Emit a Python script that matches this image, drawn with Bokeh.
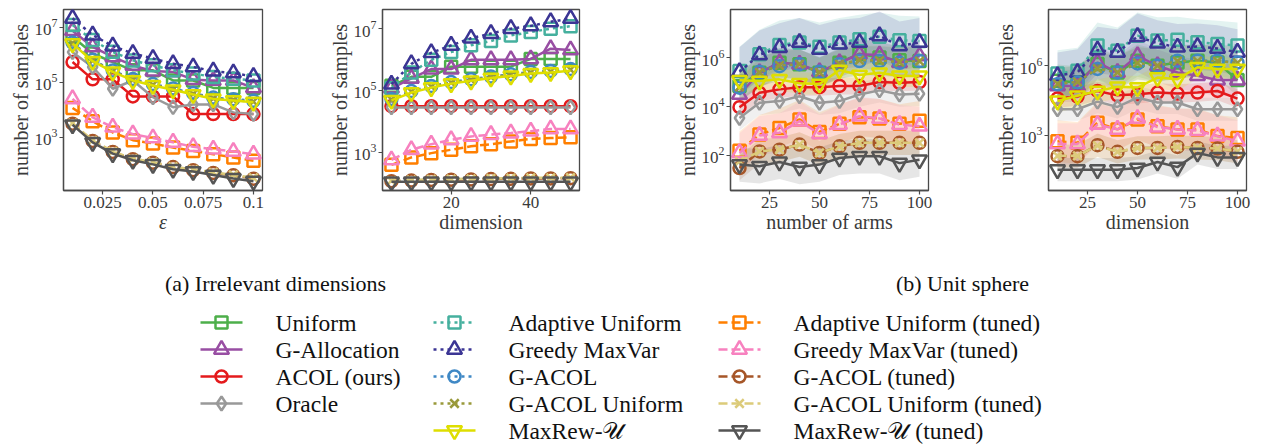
from bokeh.plotting import figure
from bokeh.layouts import row, column
from bokeh.models import Range1d, FixedTicker
from bokeh.embed import file_html
from bokeh.resources import INLINE
from bokeh.core.properties import value

# ---------------- series definitions ----------------
names = ["Uniform", "G-Allocation", "ACOL (ours)", "Oracle",
         "Adaptive Uniform", "Greedy MaxVar", "G-ACOL", "G-ACOL Uniform", "MaxRew-\U0001D4B0",
         "Adaptive Uniform (tuned)", "Greedy MaxVar (tuned)", "G-ACOL (tuned)",
         "G-ACOL Uniform (tuned)", "MaxRew-\U0001D4B0 (tuned)"]
colors = ["#4daf4a", "#984ea3", "#e41a1c", "#999999",
          "#45b09e", "#3b3594", "#3f88c5", "#99993a", "#dede00",
          "#ff7f00", "#f781bf", "#a65628", "#dccb7a", "#555555"]
markers = ["square", "triangle", "circle", "diamond",
           "square", "triangle", "circle", "x", "inverted_triangle",
           "square", "triangle", "circle", "x", "inverted_triangle"]
dashes = ["solid", "solid", "solid", "solid",
          "3 4", "3 4", "3 4", "3 4", "solid",
          "9 4", "9 4", "9 4", "9 4", "solid"]

# ---------------- (a) left: epsilon ----------------
eps = [0.01, 0.02, 0.03, 0.04, 0.05, 0.06, 0.07, 0.08, 0.09, 0.1]
eps_uniform = [6.66, 6.05, 5.74, 5.44, 5.44, 5.07, 5.07, 4.80, 4.80, 4.80]
eps_gallocation = [6.88, 6.29, 5.93, 5.62, 5.41, 5.38, 5.10, 5.07, 5.07, 4.80]
eps_acol = [5.74, 5.11, 5.11, 4.49, 4.49, 4.49, 3.85, 3.85, 3.85, 3.85]
eps_oracle = [6.10, 5.56, 4.77, 5.07, 4.46, 4.10, 4.20, 4.20, 3.91, 3.85]
eps_adaptive = [7.09, 6.54, 6.11, 5.80, 5.62, 5.44, 5.32, 5.20, 5.13, 5.07]
eps_greedy = [7.33, 6.72, 6.32, 6.05, 5.87, 5.68, 5.56, 5.41, 5.34, 5.21]
eps_gacol = [6.45, 5.82, 5.43, 5.12, 4.94, 4.78, 4.61, 4.45, 4.39, 4.33]
eps_gacol_unif = [6.43, 5.80, 5.40, 5.10, 4.91, 4.75, 4.58, 4.42, 4.36, 4.30]
eps_maxrew = [6.41, 5.77, 5.38, 5.07, 4.89, 4.73, 4.56, 4.40, 4.34, 4.28]
eps_adaptive_t = [4.07, 3.59, 3.18, 2.90, 2.78, 2.63, 2.51, 2.39, 2.27, 2.15]
eps_greedy_t = [4.40, 3.73, 3.37, 3.12, 2.98, 2.82, 2.66, 2.57, 2.49, 2.39]
eps_gacol_t = [3.50, 2.87, 2.47, 2.21, 2.08, 1.92, 1.81, 1.71, 1.62, 1.50]
eps_gacol_unif_t = [3.52, 2.89, 2.49, 2.23, 2.10, 1.94, 1.83, 1.73, 1.64, 1.53]
eps_maxrew_t = [3.46, 2.82, 2.41, 2.17, 2.02, 1.84, 1.76, 1.63, 1.51, 1.41]

# ---------------- (a) right: dimension ----------------
dim_a = [5, 10, 15, 20, 25, 30, 35, 40, 45, 50]
dima_uniform = [5.15, 5.44, 5.44, 5.77, 5.77, 5.77, 5.77, 6.02, 6.02, 6.02]
dima_gallocation = [5.07, 5.39, 5.69, 5.69, 5.99, 5.99, 5.99, 6.02, 6.35, 6.31]
dima_acol = [4.49, 4.49, 4.49, 4.49, 4.49, 4.49, 4.49, 4.49, 4.49, 4.49]
dima_oracle = [4.45, 4.45, 4.45, 4.45, 4.45, 4.45, 4.45, 4.45, 4.45, 4.45]
dima_adaptive = [5.07, 5.58, 5.99, 6.24, 6.46, 6.60, 6.78, 6.89, 7.00, 7.08]
dima_greedy = [5.20, 5.86, 6.22, 6.46, 6.69, 6.84, 7.00, 7.09, 7.22, 7.33]
dima_gacol = [4.72, 4.98, 5.14, 5.27, 5.36, 5.45, 5.52, 5.60, 5.63, 5.69]
dima_gacol_unif = [4.70, 4.96, 5.12, 5.25, 5.34, 5.43, 5.50, 5.58, 5.61, 5.67]
dima_maxrew = [4.68, 4.93, 5.09, 5.22, 5.31, 5.40, 5.47, 5.55, 5.58, 5.64]
dima_adaptive_t = [2.59, 2.83, 2.97, 3.08, 3.19, 3.26, 3.35, 3.43, 3.46, 3.48]
dima_greedy_t = [2.75, 3.08, 3.26, 3.40, 3.51, 3.57, 3.62, 3.68, 3.75, 3.75]
dima_gacol_t = [2.06, 2.08, 2.10, 2.11, 2.12, 2.13, 2.14, 2.15, 2.15, 2.16]
dima_gacol_unif_t = [2.08, 2.10, 2.12, 2.13, 2.14, 2.15, 2.16, 2.17, 2.17, 2.18]
dima_maxrew_t = [2.04, 2.04, 2.04, 2.04, 2.04, 2.04, 2.04, 2.04, 2.04, 2.04]

# ---------------- (b) left: number of arms ----------------
arms = [10, 20, 30, 40, 50, 60, 70, 80, 90, 100]
arms_uniform = [4.84, 5.38, 5.79, 5.73, 5.38, 5.79, 6.16, 6.00, 5.89, 5.86]
arms_gallocation = [4.49, 5.38, 5.79, 5.73, 5.42, 5.79, 6.14, 6.11, 5.79, 6.07]
arms_acol = [3.97, 4.56, 4.70, 4.79, 4.79, 4.84, 4.84, 5.00, 4.97, 5.00]
arms_oracle = [3.53, 4.15, 4.22, 4.42, 4.15, 4.22, 4.49, 4.66, 4.49, 4.52]
arms_adaptive = [5.45, 6.14, 6.52, 6.62, 6.44, 6.62, 6.75, 6.85, 6.71, 6.68]
arms_greedy = [5.42, 6.11, 6.41, 6.62, 6.34, 6.55, 6.62, 6.89, 6.48, 6.62]
arms_gacol = [4.77, 5.42, 5.65, 5.73, 5.42, 5.73, 5.86, 5.86, 5.79, 5.86]
arms_gacol_unif = [4.80, 5.40, 5.68, 5.73, 5.40, 5.73, 5.90, 5.88, 5.82, 5.86]
arms_maxrew = [5.07, 5.04, 5.11, 4.95, 4.92, 5.49, 5.29, 5.38, 5.25, 5.25]
arms_adaptive_t = [2.19, 2.85, 3.12, 3.47, 2.96, 3.29, 3.56, 3.51, 3.29, 3.42]
arms_greedy_t = [2.10, 2.81, 2.92, 3.40, 2.88, 3.26, 3.60, 3.51, 3.26, 3.19]
arms_gacol_t = [1.48, 2.16, 2.23, 2.44, 2.10, 2.37, 2.51, 2.51, 2.51, 2.51]
arms_gacol_unif_t = [1.75, 2.16, 2.23, 2.44, 2.10, 2.37, 2.51, 2.51, 2.51, 2.51]
arms_maxrew_t = [1.62, 1.55, 1.73, 1.52, 1.62, 1.89, 1.96, 1.96, 1.68, 1.82]
arms_spread = [0.6, 0.6, 0.35, 0.5, 1.0, 1.0, 0.6, 0.6, 0.45, 0.8, 0.8, 0.5, 0.5, 0.7]

# ---------------- (b) right: dimension ----------------
dim_b = [10, 20, 30, 40, 50, 60, 70, 80, 90, 100]
dimb_uniform = [5.35, 5.28, 6.07, 5.71, 6.22, 6.00, 6.14, 6.22, 6.14, 5.38]
dimb_gallocation = [5.13, 5.13, 6.14, 5.71, 6.43, 6.00, 5.71, 5.57, 5.38, 5.38]
dimb_acol = [4.59, 4.67, 4.91, 4.72, 4.77, 4.84, 4.80, 4.84, 4.91, 4.58]
dimb_oracle = [4.12, 4.12, 4.45, 4.22, 4.62, 4.41, 4.41, 4.12, 4.12, 4.12]
dimb_adaptive = [5.67, 5.78, 6.87, 6.65, 7.30, 7.09, 7.12, 7.01, 6.94, 6.87]
dimb_greedy = [5.57, 5.71, 6.68, 6.58, 7.26, 6.97, 6.80, 6.83, 6.75, 6.58]
dimb_gacol = [5.20, 5.28, 5.86, 5.71, 6.10, 6.00, 6.22, 6.22, 6.22, 6.14]
dimb_gacol_unif = [5.22, 5.30, 5.88, 5.71, 6.12, 6.00, 6.20, 6.20, 6.20, 6.12]
dimb_maxrew = [4.48, 4.70, 4.91, 5.09, 5.06, 5.49, 5.42, 5.93, 5.86, 5.86]
dimb_adaptive_t = [2.74, 2.67, 3.54, 3.25, 3.68, 3.39, 3.25, 3.25, 2.96, 2.88]
dimb_greedy_t = [2.62, 2.62, 3.46, 3.25, 3.72, 3.35, 3.25, 3.20, 2.96, 2.74]
dimb_gacol_t = [2.09, 2.09, 2.57, 2.28, 2.45, 2.45, 2.49, 2.45, 2.42, 2.28]
dimb_gacol_unif_t = [2.11, 2.11, 2.55, 2.28, 2.45, 2.45, 2.49, 2.45, 2.42, 2.30]
dimb_maxrew_t = [1.51, 1.51, 1.51, 1.51, 1.58, 1.84, 1.62, 2.23, 2.04, 2.04]
dimb_spread = [0.7, 0.7, 0.4, 0.5, 1.0, 1.0, 0.7, 0.7, 0.5, 0.9, 0.9, 0.5, 0.5, 0.5]

eps_series = [eps_uniform, eps_gallocation, eps_acol, eps_oracle, eps_adaptive, eps_greedy,
              eps_gacol, eps_gacol_unif, eps_maxrew, eps_adaptive_t, eps_greedy_t,
              eps_gacol_t, eps_gacol_unif_t, eps_maxrew_t]
dima_series = [dima_uniform, dima_gallocation, dima_acol, dima_oracle, dima_adaptive, dima_greedy,
               dima_gacol, dima_gacol_unif, dima_maxrew, dima_adaptive_t, dima_greedy_t,
               dima_gacol_t, dima_gacol_unif_t, dima_maxrew_t]
arms_series = [arms_uniform, arms_gallocation, arms_acol, arms_oracle, arms_adaptive, arms_greedy,
               arms_gacol, arms_gacol_unif, arms_maxrew, arms_adaptive_t, arms_greedy_t,
               arms_gacol_t, arms_gacol_unif_t, arms_maxrew_t]
dimb_series = [dimb_uniform, dimb_gallocation, dimb_acol, dimb_oracle, dimb_adaptive, dimb_greedy,
               dimb_gacol, dimb_gacol_unif, dimb_maxrew, dimb_adaptive_t, dimb_greedy_t,
               dimb_gacol_t, dimb_gacol_unif_t, dimb_maxrew_t]

SERIF = "Liberation Serif"
AXC = "#4a4a4a"
TXT = "#3a3a3a"


def msize(m):
    return 15 if "triangle" in m else (14 if m == "diamond" else 12)


def panel(x, series, spreads, xr, yr, xticks, xlabels, yticks, xlabel, italic,
          fw, bl, br):
    p = figure(frame_width=fw, frame_height=181,
               x_range=Range1d(*xr), y_range=Range1d(10 ** yr[0], 10 ** yr[1]),
               y_axis_type="log", output_backend="svg", toolbar_location=None,
               min_border_left=bl, min_border_right=br, min_border_top=9,
               min_border_bottom=50, background_fill_color="white",
               border_fill_color="white", outline_line_color=AXC,
               outline_line_width=1.3)
    p.grid.visible = False
    if spreads is not None:
        for i, ys in enumerate(series):
            p.varea(x=x, y1=[10 ** (v - spreads[i]) for v in ys],
                    y2=[10 ** (v + spreads[i]) for v in ys],
                    fill_color=colors[i], fill_alpha=0.15)
    for i, ys in enumerate(series):
        yv = [10 ** v for v in ys]
        p.line(x, yv, line_color=colors[i], line_width=2.5, line_dash=dashes[i])
        p.scatter(x, yv, marker=markers[i], size=msize(markers[i]), fill_color=None,
                  line_color=colors[i], line_width=2.5)
    p.xaxis.ticker = FixedTicker(ticks=xticks)
    p.xaxis.major_label_overrides = {t: l for t, l in zip(xticks, xlabels)}
    p.yaxis.ticker = FixedTicker(ticks=[10 ** e for e in yticks])
    for ax in (p.xaxis[0], p.yaxis[0]):
        ax.axis_line_color = AXC
        ax.axis_line_width = 1.3
        ax.major_tick_line_color = AXC
        ax.major_tick_line_width = 1.2
        ax.major_tick_out = 4
        ax.major_tick_in = 0
        ax.minor_tick_line_color = None
        ax.major_label_text_font = SERIF
        ax.major_label_text_font_size = "17px"
        ax.major_label_text_color = TXT
        ax.major_label_standoff = 2
        ax.axis_label_text_font = SERIF
        ax.axis_label_text_font_size = "20px"
        ax.axis_label_text_color = TXT
        ax.axis_label_text_font_style = "normal"
        ax.axis_label_standoff = 0
    p.xaxis.axis_label = xlabel
    if italic:
        p.xaxis.axis_label_text_font_style = "italic"
    p.yaxis.axis_label = "number of samples"
    return p


p1 = panel(eps, eps_series, None, (0.0055, 0.1045), (1.07, 7.65),
           [0.025, 0.05, 0.075, 0.1], ["0.025", "0.05", "0.075", "0.1"], [3, 5, 7],
           "ε", True, 199, 63, 63)
p2 = panel(dim_a, dima_series, None, (2.75, 52.25), (1.76, 7.62),
           [20, 40], ["20", "40"], [3, 5, 7], "dimension", False, 197, 56, 87)
p3 = panel(arms, arms_series, arms_spread, (5.5, 104.5), (0.56, 7.97),
           [25, 50, 75, 100], ["25", "50", "75", "100"], [2, 4, 6],
           "number of arms", False, 198, 64, 56)
p4 = panel(dim_b, dimb_series, dimb_spread, (5.5, 104.5), (0.61, 8.43),
           [25, 50, 75, 100], ["25", "50", "75", "100"], [3, 6],
           "dimension", False, 198, 64, 17)

# ---------------- captions + legend ----------------
leg = figure(width=1262, height=206, x_range=Range1d(0, 1262), y_range=Range1d(446, 240),
             output_backend="svg", toolbar_location=None, min_border=0,
             x_axis_location=None, y_axis_location=None, outline_line_color=None,
             background_fill_color="white", border_fill_color="white")
leg.grid.visible = False

captions = ["(a) Irrelevant dimensions", "(b) Unit sphere"]
caption_x = [275, 962]
leg.text(x=caption_x, y=[283, 283], text=captions, text_align="center",
         text_baseline="middle", text_font=value(SERIF), text_font_size="22px",
         text_color="#111111")

legend_cols = [[0, 1, 2, 3], [4, 5, 6, 7, 8], [9, 10, 11, 12, 13]]
col_x = [200, 433, 718]
row_y0, row_dy, glyph_w = 322, 27, 42
for c, idxs in enumerate(legend_cols):
    for r, i in enumerate(idxs):
        y = row_y0 + r * row_dy
        x0 = col_x[c]
        leg.line([x0, x0 + glyph_w], [y, y], line_color=colors[i], line_width=2.5,
                 line_dash=dashes[i])
        leg.scatter([x0 + glyph_w / 2], [y], marker=markers[i], size=msize(markers[i]),
                    fill_color=None, line_color=colors[i], line_width=2.5)
        leg.text([x0 + 75], [y], text=[names[i]], text_baseline="middle",
                 text_font=value(SERIF), text_font_size="23.5px", text_color="#111111")

layout = column(row(p1, p2, p3, p4), leg)
open("out.html", "w").write(file_html(layout, INLINE))
